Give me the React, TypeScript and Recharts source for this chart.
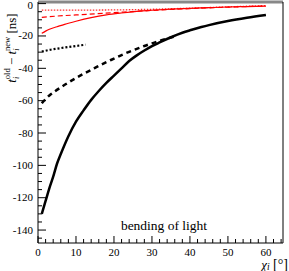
import { LineChart, Line, XAxis, YAxis } from "recharts"

// black solid
const solidX = [1, 2, 3, 4, 5, 6, 8, 10, 12, 14, 16, 18, 20, 22, 24, 26, 28, 30, 32, 35, 38, 40, 43, 45, 50, 55, 60]
const solidY = [-130, -122, -114, -107, -99, -93, -82, -73, -66, -59.5, -54, -49, -44.5, -40, -35.5, -32, -29, -26.3, -24, -20.8, -18, -16.5, -14.5, -13.3, -10.8, -8.8, -7.1]

// black dashed
const dashedX = [1, 2, 3, 4, 6, 8, 10, 12, 14, 16, 18, 20, 22, 24, 26, 28, 30, 32, 34, 36]
const dashedY = [-61.6, -59, -56.8, -55, -51.8, -48.8, -46, -43.4, -41, -38.5, -36.2, -34, -31.8, -29.8, -28, -26.2, -24.6, -23, -21.6, -20.3]

// black dotted
const dottedX = [1, 3, 6, 9, 12.5]
const dottedY = [-29.7, -28.6, -27.5, -26.5, -25.4]

// red curves
const redSolidX = [1, 2, 3, 5, 7, 10, 14, 18, 22, 26, 30, 35, 40, 45, 50, 55, 60]
const redSolidY = [-18.4, -17, -15.8, -14.3, -12.8, -10.9, -8.7, -7, -5.8, -4.8, -4.1, -3.4, -2.9, -2.5, -2.1, -1.8, -1.5]

const redDashedX = [1, 5, 10, 15, 20, 25, 30, 35, 40, 45, 50, 55, 60]
const redDashedY = [-8.5, -7.7, -7, -6.3, -5.6, -4.9, -4.2, -3.6, -3.1, -2.6, -2.2, -1.8, -1.5]

const redDottedX = [1, 10, 20, 30, 40, 50, 60]
const redDottedY = [-4, -4, -3.9, -3.5, -2.8, -2, -1.2]

const xTicks = [0, 2, 4, 6, 8, 10, 12, 14, 16, 18, 20, 22, 24, 26, 28, 30, 32, 34, 36, 38, 40, 42, 44, 46, 48, 50, 52, 54, 56, 58, 60, 62, 64]
const yTicks = [0, -5, -10, -15, -20, -25, -30, -35, -40, -45, -50, -55, -60, -65, -70, -75, -80, -85, -90, -95, -100, -105, -110, -115, -120, -125, -130, -135, -140, -145]

const zip = (xs: number[], ys: number[]) => xs.map((x, i) => ({ x, y: ys[i] }))

const FONT = "'Liberation Serif', 'DejaVu Serif', serif"

const XTick = (props: any) => {
  const { x, y, payload } = props
  const major = payload.value % 10 === 0
  return (
    <g>
      <line x1={x} x2={x} y1={y} y2={y - (major ? 7 : 4)} stroke="#000" strokeWidth={1} />
      {major && (
        <text x={x} y={y + 12.5} textAnchor="middle" fontFamily={FONT} fontSize={11} fill="#000">
          {payload.value}
        </text>
      )}
    </g>
  )
}

const YTick = (props: any) => {
  const { x, y, payload } = props
  const major = payload.value % 20 === 0
  return (
    <g>
      <line x1={x} x2={x + (major ? 8 : 4)} y1={y} y2={y} stroke="#000" strokeWidth={1} />
      {major && (
        <text x={x - 5} y={Math.max(y + 3.5, 9)} textAnchor="end" fontFamily={FONT} fontSize={11} fill="#000">
          {payload.value}
        </text>
      )}
    </g>
  )
}

export default function App() {
  return (
    <div style={{ position: "absolute", left: 0, top: 0, width: 289, height: 271, background: "#fff" }}>
      <LineChart width={289} height={271} margin={{ top: 0, right: 0, left: 0, bottom: 0 }}>
        <XAxis
          xAxisId={0}
          type="number"
          dataKey="x"
          domain={[0, 64.5]}
          ticks={xTicks}
          height={28}
          tickSize={0}
          tickMargin={0}
          tick={<XTick />}
          axisLine={{ stroke: "#000", strokeWidth: 1 }}
          interval={0}
          allowDataOverflow
        />
        <XAxis
          xAxisId="top"
          orientation="top"
          type="number"
          domain={[0, 64.5]}
          height={2}
          tick={false}
          tickLine={false}
          axisLine={{ stroke: "#888", strokeWidth: 3 }}
        />
        <YAxis
          yAxisId={0}
          type="number"
          domain={[-148, 1]}
          ticks={yTicks}
          width={38}
          tickSize={0}
          tickMargin={0}
          tick={<YTick />}
          axisLine={{ stroke: "#000", strokeWidth: 1 }}
          interval={0}
          allowDataOverflow
        />
        <YAxis
          yAxisId="right"
          orientation="right"
          type="number"
          domain={[-148, 1]}
          width={6}
          tick={false}
          tickLine={false}
          axisLine={{ stroke: "#000", strokeWidth: 1 }}
        />
        <Line data={zip(redDottedX, redDottedY)} dataKey="y" type="monotone" stroke="#ff3030" strokeWidth={1.3} strokeDasharray="1.5 1.5" dot={false} isAnimationActive={false} />
        <Line data={zip(redDashedX, redDashedY)} dataKey="y" type="monotone" stroke="#ff0000" strokeWidth={1.2} strokeDasharray="5 3" dot={false} isAnimationActive={false} />
        <Line data={zip(redSolidX, redSolidY)} dataKey="y" type="monotone" stroke="#ff0000" strokeWidth={1.2} dot={false} isAnimationActive={false} />
        <Line data={zip(dottedX, dottedY)} dataKey="y" type="monotone" stroke="#000" strokeWidth={2.2} strokeDasharray="2 2" dot={false} isAnimationActive={false} />
        <Line data={zip(dashedX, dashedY)} dataKey="y" type="monotone" stroke="#000" strokeWidth={2.5} strokeDasharray="5 4" dot={false} isAnimationActive={false} />
        <Line data={zip(solidX, solidY)} dataKey="y" type="monotone" stroke="#000" strokeWidth={2.5} dot={false} isAnimationActive={false} />
      </LineChart>
      <svg width={289} height={271} style={{ position: "absolute", left: 0, top: 0, pointerEvents: "none" }}>
        <text x={164} y={230} textAnchor="middle" fontFamily={FONT} fontSize={13.5} fill="#000">
          bending of light
        </text>
        <text x={288} y={269} textAnchor="end" fontFamily={FONT} fontSize={13} fill="#000">
          <tspan fontStyle="italic">χ</tspan>
          <tspan fontStyle="italic" fontSize={9.5} dy={1}>i</tspan>
          <tspan fontSize={14} dy={-1}>{"  [°]"}</tspan>
        </text>
        <text transform="translate(16, 48) rotate(-90)" textAnchor="middle" fontFamily={FONT} fontSize={13} fill="#000">
          <tspan fontStyle="italic">t</tspan>
          <tspan fontStyle="italic" fontSize={8.5} dy={3}>i</tspan>
          <tspan fontSize={8.5} dx={-2.5} dy={-9}>old</tspan>
          <tspan dy={6}>{" − "}</tspan>
          <tspan fontStyle="italic">t</tspan>
          <tspan fontStyle="italic" fontSize={8.5} dy={3}>i</tspan>
          <tspan fontSize={8.5} dx={-2.5} dy={-9}>new</tspan>
          <tspan dy={6}>{" [ns]"}</tspan>
        </text>
      </svg>
    </div>
  )
}
